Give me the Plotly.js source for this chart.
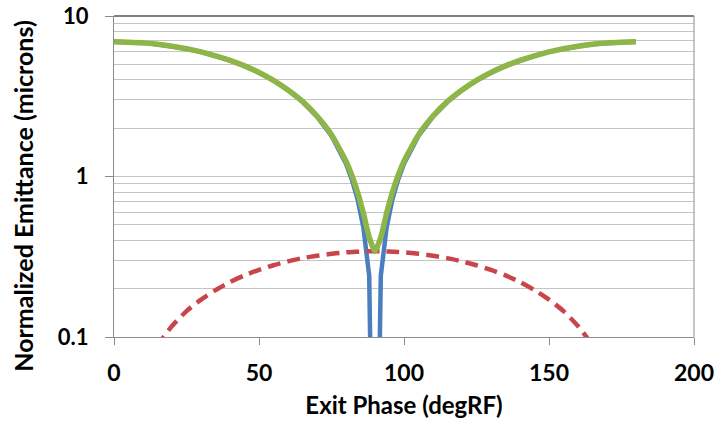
<!DOCTYPE html>
<html>
<head>
<meta charset="utf-8">
<script src="https://cdn.plot.ly/plotly-3.0.1.min.js"></script>
<style>
html,body{margin:0;padding:0;background:#fff;}
#chart{width:716px;height:425px;}
</style>
</head>
<body>
<div id="chart"></div>
<script>
// Exit phase (degRF)
const phase = [0,5,10,15,20,25,30,35,40,45,50,55,60,65,70,75,80,82,84,86,88,90,92,94,96,98,100,105,110,115,120,125,130,135,140,145,150,155,160,165,170,175,180];
// Blue: correlated emittance
const blueVals = [6.90,6.87,6.80,6.66,6.48,6.25,5.98,5.65,5.29,4.88,4.44,3.96,3.45,2.92,2.36,1.79,1.20,0.960,0.721,0.481,0.241,0.001,0.241,0.481,0.721,0.960,1.20,1.79,2.36,2.92,3.45,3.96,4.44,4.88,5.29,5.65,5.98,6.25,6.48,6.66,6.80,6.87,6.90];
// Red dashed: uncorrelated emittance
const redPhase = [5,10,15,20,25,30,35,40,45,50,55,60,65,70,75,80,82,84,86,88,90,92,94,96,98,100,105,110,115,120,125,130,135,140,145,150,155,160,165,170,175];
const redVals = [0.0298,0.0594,0.0885,0.117,0.145,0.171,0.196,0.220,0.242,0.262,0.280,0.296,0.310,0.321,0.330,0.337,0.339,0.340,0.341,0.342,0.342,0.342,0.341,0.340,0.339,0.337,0.330,0.321,0.310,0.296,0.280,0.262,0.242,0.220,0.196,0.171,0.145,0.117,0.0885,0.0594,0.0298];
// Green: total emittance
const greenVals = [6.90,6.87,6.80,6.66,6.48,6.25,5.98,5.65,5.29,4.89,4.45,3.97,3.46,2.94,2.38,1.82,1.246,1.018,0.797,0.590,0.418,0.342,0.418,0.590,0.797,1.018,1.246,1.82,2.38,2.94,3.46,3.97,4.45,4.89,5.29,5.65,5.98,6.25,6.48,6.66,6.80,6.87,6.90];

const xTicks = [0,50,100,150,200];
const yTicks = [0.1,1,10];
const yTickText = ['0.1','1','10'];
const yMinor = [0.2,0.3,0.4,0.5,0.6,0.7,0.8,0.9,2,3,4,5,6,7,8,9];

const fontFam = 'Lato, "Open Sans", sans-serif';

const traces = [
  {x: phase, y: blueVals, mode:'lines', line:{color:'#4A7EC0', width:4.5}, hoverinfo:'skip'},
  {x: redPhase, y: redVals, mode:'lines', line:{color:'#C8464A', width:4.5, dash:'13px,7px', shape:'spline', smoothing:0.6}, hoverinfo:'skip'},
  {x: phase, y: greenVals, mode:'lines', line:{color:'#8DB548', width:5.5, shape:'spline', smoothing:0.5}, hoverinfo:'skip'}
];

const layout = {
  width:716, height:425,
  margin:{l:114, r:22, t:16, b:88},
  paper_bgcolor:'#fff', plot_bgcolor:'#fff',
  showlegend:false,
  font:{family:fontFam, color:'#000'},
  xaxis:{
    range:[0,200], tickvals:xTicks, ticktext:xTicks.map(String),
    showgrid:false, zeroline:false,
    showline:true, linecolor:'#8c8c8c', linewidth:1,
    ticks:'outside', ticklen:7, tickcolor:'#8c8c8c',
    ticklabelstandoff:8,
    tickfont:{size:23, family:fontFam, weight:'bold', color:'#000'},
    title:{text:'Exit Phase (degRF)', font:{size:24, family:fontFam, weight:'bold', color:'#000'}, standoff:12},
    mirror:false
  },
  yaxis:{
    type:'log', range:[-1,1],
    tickvals:yTicks, ticktext:yTickText,
    showgrid:true, gridcolor:'#c4c4c4', gridwidth:1,
    zeroline:false,
    showline:true, linecolor:'#8c8c8c', linewidth:1,
    ticks:'outside', ticklen:8, tickcolor:'#8c8c8c',
    ticklabelstandoff:12,
    ticklabeloverflow:'allow',
    tickfont:{size:22, family:fontFam, weight:'bold', color:'#000'},
    minor:{tickvals:yMinor, showgrid:true, gridcolor:'#c4c4c4', gridwidth:1, ticks:''}
  },
  annotations:[
    {text:'Normalized Emittance (microns)', xref:'paper', yref:'paper', x:-0.157, y:0.44,
     xanchor:'center', yanchor:'middle', textangle:-90, showarrow:false,
     font:{size:25, family:fontFam, weight:'bold', color:'#000'}}
  ],
  shapes:[
    {type:'line', xref:'paper', yref:'paper', x0:0, x1:1, y0:1, y1:1, line:{color:'#555', width:1.5}},
    {type:'line', xref:'paper', yref:'paper', x0:1, x1:1, y0:0, y1:1, line:{color:'#8c8c8c', width:1}}
  ]
};

Plotly.newPlot('chart', traces, layout, {displayModeBar:false, staticPlot:true});
</script>
</body>
</html>
